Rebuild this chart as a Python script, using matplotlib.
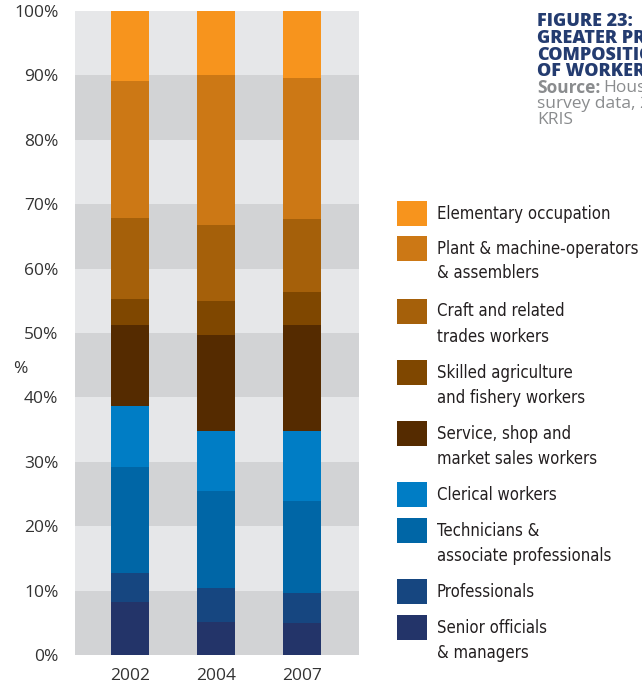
import matplotlib.pyplot as plt
from matplotlib.patches import Rectangle
import numpy as np

years = ['2002', '2004', '2007']

# bottom to top
categories = [
    'Senior officials\n& managers',
    'Professionals',
    'Technicians &\nassociate professionals',
    'Clerical workers',
    'Service, shop and\nmarket sales workers',
    'Skilled agriculture\nand fishery workers',
    'Craft and related\ntrades workers',
    'Plant & machine-operators\n& assemblers',
    'Elementary occupation',
]
senior = [8.2, 5.1, 5.0]
professionals = [4.5, 5.3, 4.6]
technicians = [16.5, 15.1, 14.3]
clerical = [9.5, 9.3, 10.9]
service = [12.5, 14.9, 16.4]
skilled = [4.1, 5.3, 5.2]
craft = [12.6, 11.8, 11.3]
plant = [21.2, 23.3, 21.9]
elementary = [10.9, 9.9, 10.4]
series = [senior, professionals, technicians, clerical, service,
          skilled, craft, plant, elementary]

colors = ['#233469', '#164680', '#0066A6', '#007DC5', '#552B00',
          '#7F4700', '#A5600A', '#CC7815', '#F7941D']

fig = plt.figure(figsize=(6.42, 6.87), dpi=100)
ax = fig.add_axes([75/642, 32/687, 284/642, 644/687])

# alternating background bands
for i in range(10):
    ax.axhspan(i*10, i*10 + 10, color='#D2D3D5' if i % 2 == 0 else '#E6E7E9',
               lw=0, zorder=0)

x = np.arange(len(years))
bottom = np.zeros(len(years))
for vals, c in zip(series, colors):
    ax.bar(x, vals, width=38/86, bottom=bottom, color=c, lw=0, zorder=2)
    bottom += np.array(vals)

ax.set_xlim(-55/86, 2 + 57/86)
ax.set_ylim(0, 100)
ax.set_yticks(range(0, 101, 10))
ax.set_yticklabels([f'{v}%' for v in range(0, 101, 10)])
ax.set_xticks(x)
ax.set_xticklabels(years)
for s in ax.spines.values():
    s.set_visible(False)
ax.tick_params(length=0, labelsize=12.5, colors='#333333')
ax.tick_params(axis='y', pad=12)
ax.tick_params(axis='x', pad=9)
for t in ax.get_xticklabels() + ax.get_yticklabels():
    t.set_family(['Open Sans', 'DejaVu Sans'])

fig.text(20/642, 1 - 369/687, '%', fontsize=12.5, color='#333333',
         ha='center', va='center', family=['Open Sans', 'DejaVu Sans'])

# legend, top entry first
centers = [213.5, 248, 311, 372.5, 433.5, 494.5, 530.5, 591.5, 627.5]
for lab, c, yc in zip(categories[::-1], colors[::-1], centers):
    fig.add_artist(Rectangle((397/642, 1 - (yc + 12.5)/687), 30/642, 25/687,
                             transform=fig.transFigure, color=c, lw=0))
    fig.text(437/642, 1 - (yc - 8.5)/687, lab, fontsize=12, color='#231F20',
             ha='left', va='top', linespacing=1.5, fontstretch='condensed',
             family=['DejaVu Sans'])

# title block (runs off the right edge as in the source)
title_lines = ['FIGURE 23:', 'GREATER PROPORTION', 'COMPOSITION', 'OF WORKERS']
for i, t in enumerate(title_lines):
    fig.text(537/642, 1 - (22 + i*16.5)/687, t, fontsize=13, fontweight='heavy',
             color='#243C70', ha='left', va='center',
             family=['Open Sans', 'DejaVu Sans'])
fig.text(537/642, 1 - 88/687, 'Source:', fontsize=12.5, fontweight='bold',
         color='#8A8C8E', ha='left', va='center', family=['Open Sans', 'DejaVu Sans'])
fig.text(603/642, 1 - 88/687, 'Household', fontsize=12.5,
         color='#8A8C8E', ha='left', va='center', family=['Open Sans', 'DejaVu Sans'])
fig.text(537/642, 1 - 104/687, 'survey data, 2002-2007', fontsize=12.5,
         color='#8A8C8E', ha='left', va='center', family=['Open Sans', 'DejaVu Sans'])
fig.text(537/642, 1 - 120/687, 'KRIS', fontsize=12.5,
         color='#8A8C8E', ha='left', va='center', family=['Open Sans', 'DejaVu Sans'])

fig.savefig('out.png', dpi=100)
